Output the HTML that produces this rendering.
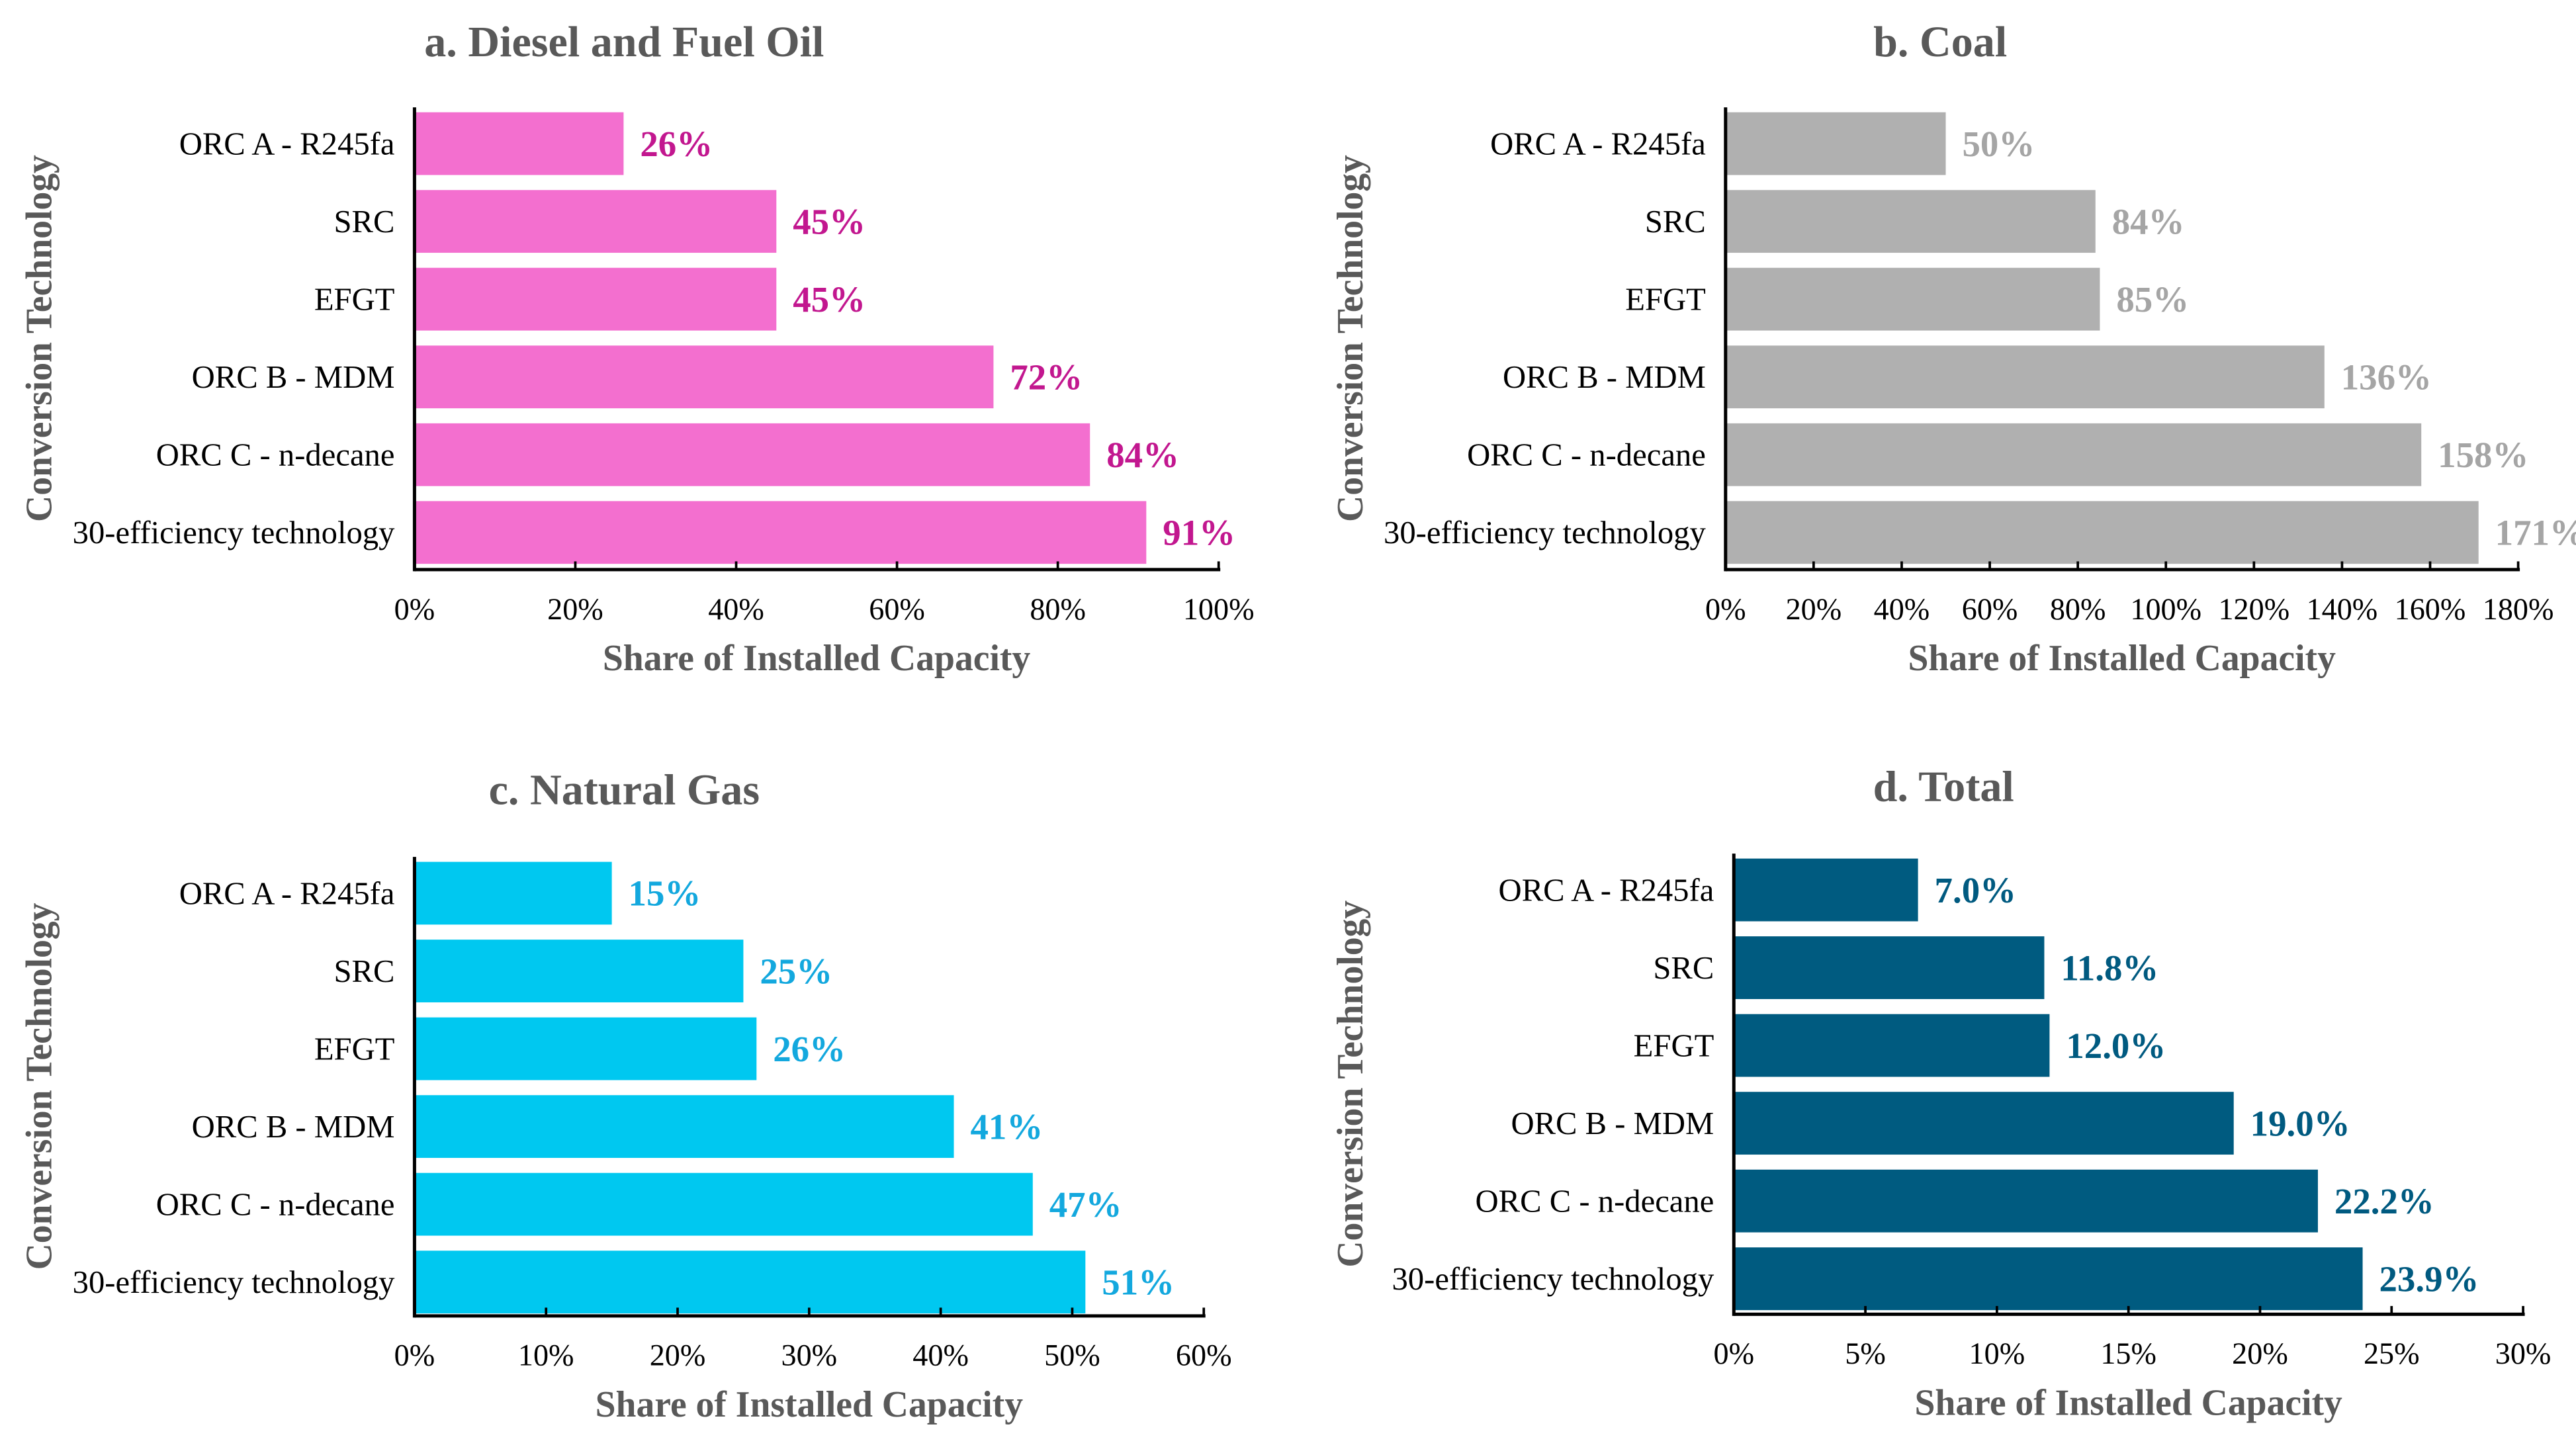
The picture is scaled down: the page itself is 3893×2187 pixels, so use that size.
<!DOCTYPE html>
<html><head><meta charset="utf-8"><style>
html,body{margin:0;padding:0;background:#fff;}
svg{display:block;}
text{font-family:"Liberation Serif",serif;}
</style></head><body>
<svg id="chart" width="3893" height="2187" viewBox="0 0 1560 876.4" xmlns="http://www.w3.org/2000/svg"></svg>
<script>
const categories = ["ORC A - R245fa","SRC","EFGT","ORC B - MDM","ORC C - n-decane","30-efficiency technology"];
const dieselValues = [26,45,45,72,84,91];
const coalValues = [50,84,85,136,158,171];
const gasValues = [15,25,26,41,47,51];
const totalValues = [7.0,11.8,12.0,19.0,22.2,23.9];
const dieselTicks = [0,20,40,60,80,100];
const coalTicks = [0,20,40,60,80,100,120,140,160,180];
const gasTicks = [0,10,20,30,40,50,60];
const totalTicks = [0,5,10,15,20,25,30];

const panels = [
 {id:"diesel",title:"a. Diesel and Fuel Oil",vals:dieselValues,ticks:dieselTicks,dec:0,x0:251,x1:738,top:65,bottom:345,y0:87,titleX:378,titleY:34,bar:"#F36FCF",lab:"#C2178F"},
 {id:"coal",title:"b. Coal",vals:coalValues,ticks:coalTicks,dec:0,x0:1045,x1:1525,top:65,bottom:345,y0:87,titleX:1175,titleY:34,bar:"#B0B0B0",lab:"#A5A5A5"},
 {id:"gas",title:"c. Natural Gas",vals:gasValues,ticks:gasTicks,dec:0,x0:251,x1:729,top:519,bottom:797,y0:541,titleX:378,titleY:487,bar:"#00C8F0",lab:"#13A8DE"},
 {id:"total",title:"d. Total",vals:totalValues,ticks:totalTicks,dec:1,x0:1050,x1:1528,top:517,bottom:796,y0:539,titleX:1177,titleY:485,bar:"#005B80",lab:"#005A80"}
];
const NS="http://www.w3.org/2000/svg";
const svg=document.getElementById('chart');
function mk(tag,attrs,parent,txt){const e=document.createElementNS(NS,tag);for(const k in attrs)e.setAttribute(k,attrs[k]);if(txt!==undefined)e.textContent=txt;parent.appendChild(e);return e;}
panels.forEach(p=>{
  const g=mk('g',{},svg);
  
  
  const max=p.ticks[p.ticks.length-1];
  const xs=v=>p.x0+(v/max)*(p.x1-p.x0);
  const step=47.1;
  const ys=i=>p.y0+i*step;
  const t=mk('text',{x:p.titleX,y:p.titleY,'text-anchor':'middle','font-size':26.5,'font-weight':'bold',fill:'#595959'},g,p.title);
  
  
  p.vals.forEach((v,i)=>{
    const r=mk('rect',{x:p.x0,y:ys(i)-19,width:xs(v)-p.x0,height:38,fill:p.bar},g);
    
    
    const vl=mk('text',{x:xs(v)+10,y:ys(i)+7.5,'font-size':22,'font-weight':'bold',fill:p.lab},g,v.toFixed(p.dec)+'%');
    
    
    const cl=mk('text',{x:p.x0-12,y:ys(i)+6.5,'text-anchor':'end','font-size':19.5,fill:'#000'},g,categories[i]);
    
    
  });
  mk('line',{x1:p.x0,y1:p.top,x2:p.x0,y2:p.bottom+1,stroke:'#000','stroke-width':2},g);
  mk('line',{x1:p.x0,y1:p.bottom,x2:p.x1+1,y2:p.bottom,stroke:'#000','stroke-width':2},g);
  p.ticks.forEach(tv=>{
    mk('line',{x1:xs(tv),y1:p.bottom,x2:xs(tv),y2:p.bottom-5,stroke:'#000','stroke-width':1.5},g);
    const tl=mk('text',{x:xs(tv),y:p.bottom+30,'text-anchor':'middle','font-size':18.5,fill:'#000'},g,tv+'%');
    
    
  });
  const xt=mk('text',{x:(p.x0+p.x1)/2,y:p.bottom+61,'text-anchor':'middle','font-size':22.3,'font-weight':'bold',fill:'#595959'},g,'Share of Installed Capacity');
  
  
  const cy=(p.top+p.bottom)/2;
  const cx=p.x0<600?31:825;
  const yt=mk('text',{x:cx,y:cy,'text-anchor':'middle','font-size':22.3,'font-weight':'bold',fill:'#595959',transform:'rotate(-90 '+cx+' '+cy+')'},g,'Conversion Technology');
  
  
});
</script>
</body></html>
